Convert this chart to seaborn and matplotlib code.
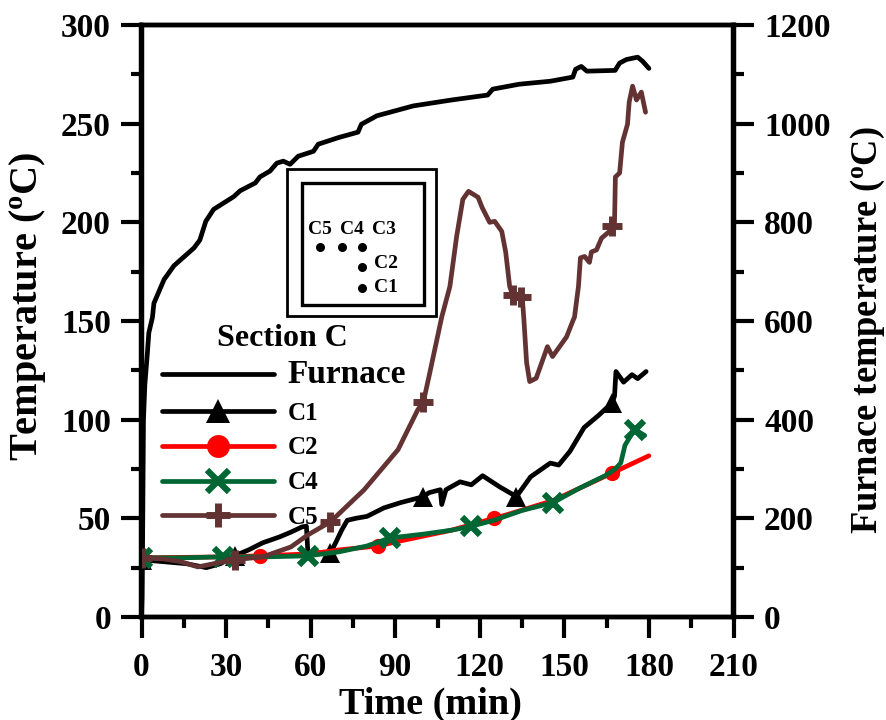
import numpy as np
import pandas as pd
import seaborn as sns
import matplotlib
matplotlib.use("Agg")
import matplotlib.pyplot as plt
from matplotlib.lines import Line2D
from matplotlib.patches import Rectangle

sns.set_theme(style="white")
plt.rcParams['font.family'] = ['Liberation Serif', 'DejaVu Serif']
plt.rcParams['font.weight'] = 'bold'
plt.rcParams['mathtext.default'] = 'regular'
plt.rcParams['text.color'] = 'black'
plt.rcParams['axes.labelcolor'] = 'black'
plt.rcParams['xtick.color'] = 'black'
plt.rcParams['ytick.color'] = 'black'

# ---- data ----
furnace_t = [0,0.2,0.4,0.7,1.2,2.1,2.6,3.9,4.4,8,11.5,18.6,20.7,22.8,25.6,32.7,35,40.4,42,45.6,48,50.3,52.7,55.6,61,62.7,70,76.8,78,83.5,96.4,110,122.8,124.6,134,145,153,154,156,158,168,169.6,172,176,177.7,180]
furnace_l = [0,10,40,100,118,134,144,152,159,171,178,187,191,200.5,206.6,213,216,220,223,226,230,231,229.4,233.5,236,239.6,243,245.7,249.7,254,259,262,264.5,267.5,270,271.5,273.6,277.6,279,276.6,277,280.7,282.5,283.7,281.7,278]

c1_t = [0,8,16,23,28,33,38,43,49,53,57,58.5,59,60,67,69,71,73,76,80,86,92,100,102,106,106.5,108,113,117,121,127,133,138,145,148,152,157,162,167,167.8,168.3,171,174,176,179]
c1_v = [29,28,27,25,27,31,34,37.6,40.6,43,45.7,46,33,32.5,32.5,38,44,49,50,51,55.3,58,61,63,64.5,57,64.5,68.5,67,71.6,66,61,71,78,77,84,96,102,108.6,112,124.4,119,122.8,120.8,124.4]
c1_marks = [0,33,67,100,133,167]

c2_t = [0,20,30,42,60,70,84,90,100,110,125,130,146,155,167,180]
c2_v = [30,30.3,30.5,31,32,34,36,38,41,44,50,52,59,65,73,81.7]
c2_marks = [0,42,84,125,167]

c4_t = [0,15,29,45,59,70,80,84,88,100,110,117,125,135,146,155,165,168,170,171.5,174,175,178.5]
c4_v = [30,30,30.5,30.5,31,33,36,38,40,42,44,46,49,54,58,65,72,75,78,87,93,95,92]
c4_marks = [0,29,59,88,117,146,175]

c5_t = [0,8,14,20,27,33,43,53,59,67,79,91,98,100,102,106.5,109.4,111.8,114,116,119.4,120.8,123.5,125.3,127.8,129.2,130.6,131.7,133,134.5,135.2,135.6,136.6,137.7,140,144,145.8,150.8,153,153.6,155,155.7,157.2,158.9,159.6,161.4,163.2,166,167,167.8,168.1,169.6,170.6,172.4,173,174.2,175.6,177.3,178.8]
c5_v = [30,29.4,28,25.4,27.4,29,30.5,35.5,41.6,48.2,64.5,84.8,105,109,122,152,167.5,193,211.7,215.7,212.7,207.6,200,200.5,195.4,184.8,167.5,163,163,162,159.4,151.8,129,119.3,121,137,132,142,150,152,167.5,182,182.7,179.7,185,186,192,195.4,198,200,223,225,240.6,249.7,261,269,262,266,255.8]
c5_marks = [0,33,67,100,131.7,134.5,167]

W, H = 886, 720
L, R, T, B = 141.5, 733.5, 25, 617
fig = plt.figure(figsize=(W/100, H/100), dpi=100, facecolor='white')
ax = fig.add_axes([L/W, 1-B/H, (R-L)/W, (B-T)/H])
ax2 = ax.twinx()
fx = lambda x: x/W
fy = lambda y: 1-y/H

def idx(ts, marks):
    ts = np.asarray(ts, float)
    return [int(np.argmin(np.abs(ts-m))) for m in marks]

BLACK, RED, GREEN, BROWN = '#000000', '#ff0000', '#006633', '#633333'
LW = 3.4
sns.lineplot(x=np.array(furnace_t), y=np.array(furnace_l)*4, ax=ax2, color=BLACK, lw=LW,
             estimator=None, sort=False, legend=False)
series = [
    (c1_t, c1_v, c1_marks, BLACK, '^', 'C1', 1),
    (c2_t, c2_v, c2_marks, RED, 'o', 'C2', 2),
    (c4_t, c4_v, c4_marks, GREEN, 'x', 'C4', 3),
    (c5_t, c5_v, c5_marks, BROWN, '+', 'C5', 4),
]
plot_style = {'^': dict(ms=14.5, mew=0), 'o': dict(ms=11, mew=0), 'x': dict(ms=13, mew=4.5), '+': dict(ms=15, mew=5)}
leg_style = {'^': dict(ms=17, mew=0), 'o': dict(ms=16.5, mew=0), 'x': dict(ms=15.5, mew=4.5), '+': dict(ms=17, mew=5)}
handles = [Line2D([], [], color=BLACK, lw=LW, solid_capstyle='round')]
labels = ['Furnace']
ax.set_zorder(ax2.get_zorder()+1)
ax.patch.set_visible(False)
for t, v, m, c, mk, lab, z in series:
    sns.lineplot(x=t, y=v, ax=ax, color=c, lw=LW, estimator=None, sort=False, legend=False,
                 marker=mk, markevery=idx(t, m), mec=c, mfc=c, zorder=2+z, **plot_style[mk])
    handles.append(Line2D([], [], color=c, lw=LW, marker=mk, mec=c, mfc=c, solid_capstyle='round', **leg_style[mk]))
    labels.append(lab)

ax.set_xlim(0, 210)
ax.set_ylim(0, 300)
ax2.set_ylim(0, 1200)
ax.set_xticks(np.arange(0, 211, 30))
ax.set_xticks(np.arange(15, 211, 30), minor=True)
ax.set_yticks(np.arange(0, 301, 50))
ax.set_yticks(np.arange(25, 301, 50), minor=True)
ax2.set_yticks(np.arange(0, 1201, 200))
ax2.set_yticks(np.arange(100, 1201, 200), minor=True)
for a in (ax, ax2):
    for s in a.spines.values():
        s.set_linewidth(3.2)
        s.set_color('black')
    a.tick_params(which='major', length=15, width=3, color='black', labelsize=24, pad=7,
                  bottom=a is ax, left=a is ax, right=a is ax2)
    a.tick_params(which='minor', length=8, width=3, color='black',
                  bottom=a is ax, left=a is ax, right=a is ax2)
    for tl in a.get_xticklabels()+a.get_yticklabels():
        tl.set_fontweight('bold')
ax.tick_params(axis='x', which='major', pad=10)

ax.set_xlabel('')
ax.set_ylabel('')
ax2.set_ylabel('')
fig.text(fx(430), fy(704), 'Time (min)', ha='center', va='center', fontsize=27.5, fontweight='bold')
fig.text(fx(28), fy(306), r'Temperature ($^{o}$C)', rotation=90, ha='center', va='center', fontsize=29, fontweight='bold')
fig.text(fx(868), fy(330), r'Furnace temperature ($^{o}$C)', rotation=90, ha='center', va='center', fontsize=26.3, fontweight='bold')

leg = ax.legend(handles, labels, loc='upper left',
                bbox_to_anchor=((162-L)/(R-L), (B-359)/(B-T)),
                frameon=False, handlelength=4.47, numpoints=1, fontsize=18, labelspacing=0.47,
                handletextpad=0.55, borderpad=0, borderaxespad=0)
leg.set_zorder(20)
leg.get_texts()[0].set_fontsize(24)
fig.text(fx(282), fy(339), 'Section C', ha='center', va='center', fontsize=23, fontweight='bold')

# inset schematic of the section
for x0, y0, x1, y1, lw in [(287, 169, 436, 316, 2.0), (302, 183, 424, 305, 2.4)]:
    fig.add_artist(Rectangle((fx(x0), fy(y1)), (x1-x0)/W, (y1-y0)/H, transform=fig.transFigure,
                             fill=False, ec='black', lw=lw))
dots = [(320, 247), (342, 247), (362, 247), (362, 267), (362, 288)]
for x, y in dots:
    fig.add_artist(Line2D([fx(x)], [fy(y)], marker='o', ms=6.5, color='black', mew=0,
                          transform=fig.transFigure))
for s, x, y in [('C5', 320, 229), ('C4', 352, 229), ('C3', 384, 229), ('C2', 386, 263), ('C1', 386, 288)]:
    fig.text(fx(x), fy(y), s, ha='center', va='center', fontsize=14, fontweight='bold')

fig.savefig('out.png', dpi=100)
